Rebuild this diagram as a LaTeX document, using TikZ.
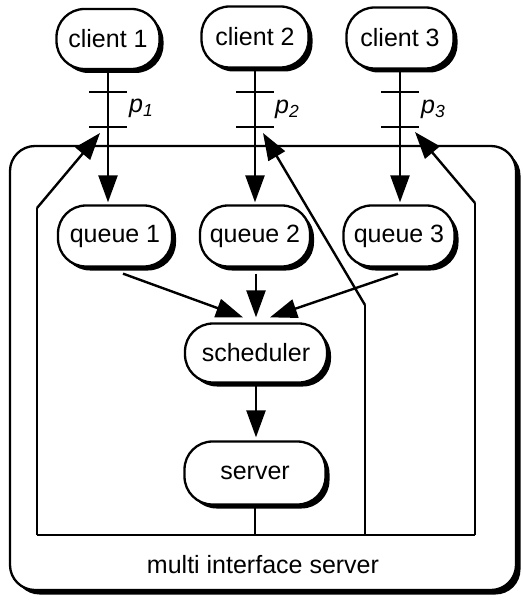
\documentclass[tikz,border=0pt]{standalone}
\usepackage{fontspec}
\setmainfont{Liberation Sans}
\usetikzlibrary{arrows.meta,shadows}
\begin{document}
\begin{tikzpicture}[x=1pt,y=-1pt,
  blob/.style={draw, line width=2.3pt, fill=white, rounded corners=28pt,
    inner sep=0pt, font=\fontsize{25}{29}\selectfont,
    drop shadow={shadow xshift=4pt, shadow yshift=-4pt, opacity=1, fill=black}},
  frame/.style={draw, line width=2.3pt, fill=white, rounded corners=25pt,
    inner sep=0pt,
    drop shadow={shadow xshift=4.5pt, shadow yshift=-4.5pt, opacity=1, fill=black}},
  arr/.style={line width=2.4pt, -{Triangle[length=27pt,width=19pt]}},
  wire/.style={line width=2pt},
  tickmark/.style={line width=2.2pt},
  plabel/.style={anchor=base west, inner sep=0pt,
    font=\fontsize{25}{29}\selectfont\itshape},
]
\useasboundingbox (0,0) rectangle (522,604);

% enclosing server box
\node[frame, minimum width=506pt, minimum height=444pt] (outer) at (263,368) {};
\node[font=\fontsize{25}{29}\selectfont] (mislabel) at (263,565) {multi interface server};

% clients
\node[blob, minimum width=103pt, minimum height=60pt] (client1) at (108,39) {client 1};
\node[blob, minimum width=107pt, minimum height=61pt] (client2) at (255,37) {client 2};
\node[blob, minimum width=107pt, minimum height=61pt] (client3) at (400,38) {client 3};

% queues
\node[blob, minimum width=114pt, minimum height=61pt] (queue1) at (115,236) {queue 1};
\node[blob, minimum width=110pt, minimum height=61pt] (queue2) at (255,236) {queue 2};
\node[blob, minimum width=111pt, minimum height=61pt] (queue3) at (399,236) {queue 3};

% scheduler and server
\node[blob, minimum width=142pt, minimum height=59pt] (sched) at (256,353) {scheduler};
\node[blob, minimum width=141pt, minimum height=63pt] (server) at (255,473) {server};

% ticks on the client lines
\foreach \i/\x in {1/108,2/255,3/400}{
  \coordinate (ka\i) at (\x,92);
  \coordinate (kb\i) at (\x,127);
  \draw[tickmark] ([xshift=-19pt]ka\i) -- ([xshift=19pt]ka\i);
  \draw[tickmark] ([xshift=-19pt]kb\i) -- ([xshift=19pt]kb\i);
}
\node[plabel] (p1) at (129,113) {p\textsubscript{1}};
\node[plabel] (p2) at (275,114) {p\textsubscript{2}};
\node[plabel] (p3) at (421,114) {p\textsubscript{3}};

% client -> queue
\draw[arr] (client1.south) -- ([yshift=2pt]client1.south |- queue1.north);
\draw[arr] (client2.south) -- ([yshift=2pt]client2.south |- queue2.north);
\draw[arr] (client3.south) -- ([yshift=2pt]client3.south |- queue3.north);

% queue -> scheduler
\draw[arr] ([xshift=8pt,yshift=-6pt]queue1.south) -- ([xshift=-13pt,yshift=5pt]sched.north);
\draw[arr] ([xshift=1pt,yshift=-6pt]queue2.south) -- ([yshift=5pt]sched.north);
\draw[arr] ([xshift=-1pt,yshift=-6pt]queue3.south) -- ([xshift=14pt,yshift=5pt]sched.north);

% scheduler -> server
\draw[arr] (sched.south) -- ([yshift=3pt]sched.south |- server.north);

% feedback wiring back to the client interfaces
\coordinate (b1) at (37,535);
\coordinate (m1) at (37,208);
\coordinate (f1) at (100,133);
\coordinate (b2) at (365,535);
\coordinate (m2) at (365,305);
\coordinate (f2) at (263,133);
\coordinate (b3) at (475,535);
\coordinate (m3) at (475,203);
\coordinate (f3) at (415,132);
\coordinate (bs) at (server.south |- b1);

\draw[wire] (server.south) -- (bs);
\draw[wire] (b1) -- (b3);
\draw[wire] (b1) -- (m1);
\draw[wire] (b2) -- (m2);
\draw[wire] (b3) -- (m3);
\draw[arr] (m1) -- (f1);
\draw[arr] (m2) -- (f2);
\draw[arr] (m3) -- (f3);
\end{tikzpicture}
\end{document}
